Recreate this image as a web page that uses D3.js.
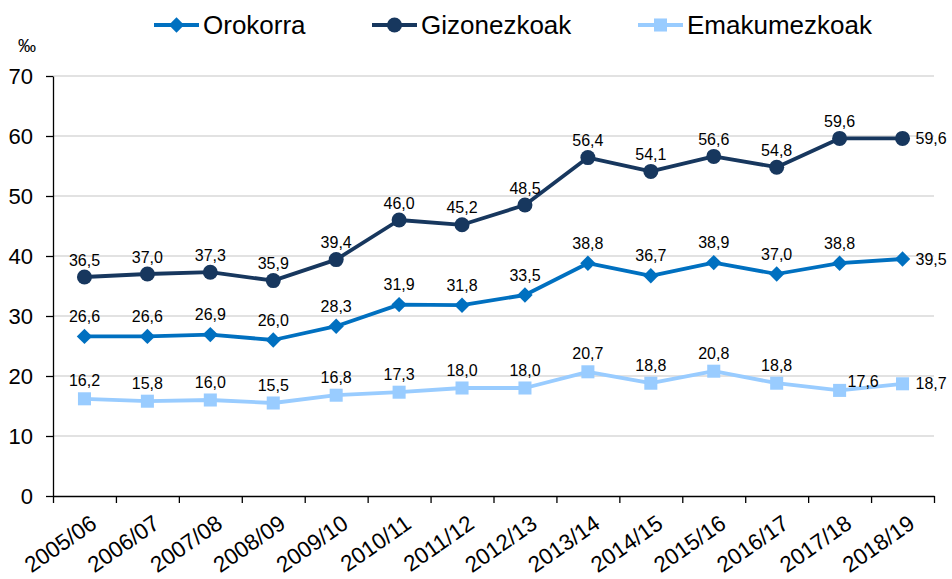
<!DOCTYPE html>
<html>
<head>
<meta charset="utf-8">
<script src="https://cdn.jsdelivr.net/npm/d3@7"></script>
<style>
  body { margin: 0; background: #fff; }
  text { font-family: "Liberation Sans", Arial, sans-serif; fill: #000; }
</style>
</head>
<body>
<svg id="chart"></svg>
<script>
var years = ["2005/06","2006/07","2007/08","2008/09","2009/10","2010/11","2011/12",
  "2012/13","2013/14","2014/15","2015/16","2016/17","2017/18","2018/19"];
var orokorra = [26.6, 26.6, 26.9, 26.0, 28.3, 31.9, 31.8, 33.5, 38.8, 36.7, 38.9, 37.0, 38.8, 39.5];
var gizonezkoak = [36.5, 37.0, 37.3, 35.9, 39.4, 46.0, 45.2, 48.5, 56.4, 54.1, 56.6, 54.8, 59.6, 59.6];
var emakumezkoak = [16.2, 15.8, 16.0, 15.5, 16.8, 17.3, 18.0, 18.0, 20.7, 18.8, 20.8, 18.8, 17.6, 18.7];
var yTicks = [0, 10, 20, 30, 40, 50, 60, 70];

var width = 952, height = 579;
var plotLeft = 53, plotRight = 934, plotTop = 76, plotBottom = 496;

var series = [
  { name: "Orokorra", values: orokorra, color: "#0070C0", symbol: "diamond", lift: 20 },
  { name: "Gizonezkoak", values: gizonezkoak, color: "#17375E", symbol: "circle", lift: 17 },
  { name: "Emakumezkoak", values: emakumezkoak, color: "#99CCFF", symbol: "square", lift: 18 }
];

var svg = d3.select("#chart")
  .attr("width", width)
  .attr("height", height);

var x = d3.scaleBand().domain(years).range([plotLeft, plotRight]);
var xi = d3.scaleLinear().domain([0, years.length]).range([plotLeft, plotRight]);
var y = d3.scaleLinear().domain([0, 70]).range([plotBottom, plotTop]);

function cx(i) { return x(years[i]) + x.bandwidth() / 2; }
function fmt(v) { return v.toFixed(1).replace(".", ","); }

// gridlines
svg.append("g")
  .selectAll("line")
  .data(yTicks.slice(1))
  .enter().append("line")
  .attr("x1", plotLeft).attr("x2", plotRight)
  .attr("y1", function(d) { return y(d); })
  .attr("y2", function(d) { return y(d); })
  .style("stroke", "#d9d9d9")
  .style("stroke-width", 1.5);

// y axis
var yAxis = svg.append("g")
  .attr("transform", "translate(" + plotLeft + ",0)")
  .call(d3.axisLeft(y).tickValues(yTicks).tickSize(7).tickSizeOuter(0).tickPadding(13));
yAxis.select(".domain").style("stroke", "#000").style("stroke-width", 1.3);
yAxis.selectAll(".tick line").style("stroke", "#000").style("stroke-width", 1.3);
yAxis.selectAll("text")
  .style("font-size", "22px")
  .style("font-family", "Liberation Sans, Arial, sans-serif")
  .style("fill", "#000");

// x axis (ticks between categories)
var xAxis = svg.append("g")
  .attr("transform", "translate(0," + plotBottom + ")")
  .call(d3.axisBottom(xi).ticks(years.length).tickFormat("").tickSize(7).tickSizeOuter(0));
xAxis.select(".domain").style("stroke", "#000").style("stroke-width", 1.3);
xAxis.selectAll(".tick line").style("stroke", "#000").style("stroke-width", 1.3);

svg.append("g")
  .selectAll("text")
  .data(years)
  .enter().append("text")
  .attr("transform", function(d, i) {
    return "translate(" + (cx(i) + 4) + "," + (plotBottom + 17) + ") rotate(-35)";
  })
  .attr("text-anchor", "end")
  .attr("dy", "0.75em")
  .style("font-size", "22.5px")
  .text(function(d) { return d; });

// unit
svg.append("text")
  .attr("x", 27).attr("y", 52)
  .attr("text-anchor", "middle")
  .style("font-size", "18px")
  .text("‰");

function marker(sel, s) {
  if (s.symbol === "circle") {
    sel.append("circle").attr("r", 7.5).style("fill", s.color);
  } else if (s.symbol === "diamond") {
    sel.append("path")
      .attr("d", d3.symbol().type(d3.symbolSquare).size(118)())
      .attr("transform", "rotate(45)")
      .style("fill", s.color);
  } else {
    sel.append("path")
      .attr("d", d3.symbol().type(d3.symbolSquare).size(170)())
      .style("fill", s.color);
  }
}

var line = d3.line()
  .x(function(d, i) { return cx(i); })
  .y(function(d) { return y(d); });

series.forEach(function(s) {
  var g = svg.append("g");
  g.append("path")
    .datum(s.values)
    .attr("d", line)
    .style("fill", "none")
    .style("stroke", s.color)
    .style("stroke-width", 3.8)
    .style("stroke-linejoin", "round");

  s.values.forEach(function(v, i) {
    var m = g.append("g").attr("transform", "translate(" + cx(i) + "," + y(v) + ")");
    marker(m, s);
  });

  g.selectAll("text.lbl")
    .data(s.values)
    .enter().append("text")
    .attr("class", "lbl")
    .style("font-size", "16px")
    .each(function(v, i) {
      var t = d3.select(this);
      var last = i === s.values.length - 1;
      if (last) {
        t.attr("x", cx(i) + 13).attr("y", y(v)).attr("dy", "0.35em").attr("text-anchor", "start");
      } else if (s.name === "Emakumezkoak" && i === 12) {
        t.attr("x", cx(i) + 8).attr("y", y(v) - 9).attr("dy", "0.35em").attr("text-anchor", "start");
      } else {
        t.attr("x", cx(i)).attr("y", y(v) - s.lift).attr("dy", "0.35em").attr("text-anchor", "middle");
      }
      t.text(fmt(v));
    });
});

// legend
var legendPos = [154, 372, 638];
series.forEach(function(s, k) {
  var lg = svg.append("g").attr("transform", "translate(" + legendPos[k] + ",25)");
  lg.append("line")
    .attr("x1", 0).attr("x2", 45)
    .style("stroke", s.color)
    .style("stroke-width", 3.8);
  var m = lg.append("g").attr("transform", "translate(22.5,0)");
  marker(m, s);
  lg.append("text")
    .attr("x", 49).attr("dy", "0.35em")
    .style("font-size", "26px")
    .text(s.name);
});
</script>
</body>
</html>
